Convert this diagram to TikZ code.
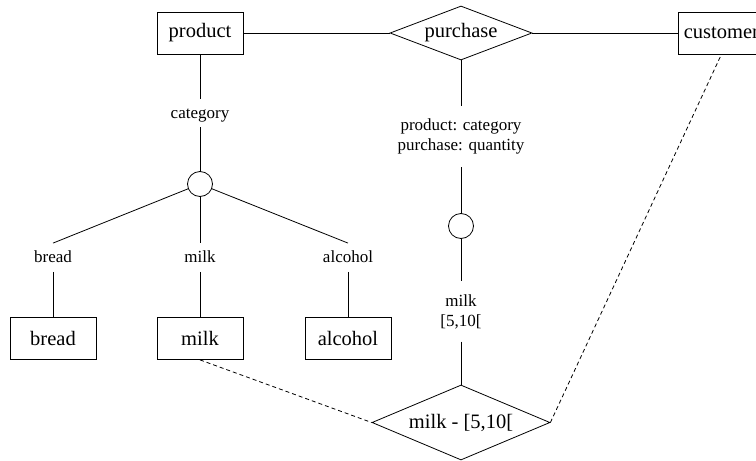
\documentclass[tikz,border=0pt]{standalone}
\usepackage{fontspec}
\setmainfont{Liberation Serif}
\usetikzlibrary{shapes}

\begin{document}
\begin{tikzpicture}[x=1pt, y=-1pt, line width=0.8pt,
	entity/.style={draw, minimum width=86pt, minimum height=42pt, inner sep=0pt, font=\fontsize{20.5}{24}\selectfont},
	relation/.style={draw, diamond, inner sep=0pt, font=\fontsize{20.5}{24}\selectfont},
	split/.style={draw, circle, minimum size=25pt, inner sep=0pt},
	lbl/.style={inner sep=4pt, text height=15pt, text depth=5pt, font=\fontsize{17}{20}\selectfont},
	lbltwo/.style={inner xsep=4pt, inner ysep=12.5pt, align=center, font=\fontsize{17}{20}\selectfont},
	link/.style={dash pattern=on 4pt off 3pt}]
			\path[use as bounding box, clip] (0,0) rectangle (756,461);

			\node[entity] (product) at (200,33) {product};
			\node[relation, aspect=2.6, minimum width=142pt, minimum height=54pt] (purchase) at (461,33) {purchase};
			\node[entity, anchor=west] (customer) at (678,33) {customer};

			\node[lbl] (category) at (200,113) {category};
			\node[split] (catsplit) at (200,184) {};
			\node[lbl] (breadlbl) at (53,257.5) {bread};
			\node[lbl] (milklbl) at (200,257.5) {milk};
			\node[lbl] (alcohollbl) at (348,257.5) {alcohol};
			\node[entity] (bread) at (53,338.5) {bread};
			\node[entity] (milk) at (200,338.5) {milk};
			\node[entity] (alcohol) at (348,338.5) {alcohol};

			\node[lbltwo] (groupby) at (461,136.5) {product: category\\purchase: quantity};
			\node[split] (qtysplit) at (461,226) {};
			\node[lbltwo] (milkrange) at (461,311.5) {milk\\{[5,10[}};
			\node[relation, aspect=2.4, minimum width=178pt, minimum height=75pt] (milkpurchase) at (461,422.5) {milk - [5,10[};

			\draw (product) -- (purchase) -- (customer);
			\draw (product) -- (category) -- (catsplit);
			\draw (catsplit) -- (breadlbl.north);
			\draw (catsplit) -- (milklbl);
			\draw (catsplit) -- (alcohollbl.north);
			\draw (breadlbl) -- (bread);
			\draw (milklbl) -- (milk);
			\draw (alcohollbl) -- (alcohol);
			\draw (purchase) -- (groupby) -- (qtysplit) -- (milkrange) -- (milkpurchase);
			\draw[link] (milk.south) -- (milkpurchase.west);
			\draw[link] (milkpurchase.east) -- (customer.south);
\end{tikzpicture}
\end{document}
